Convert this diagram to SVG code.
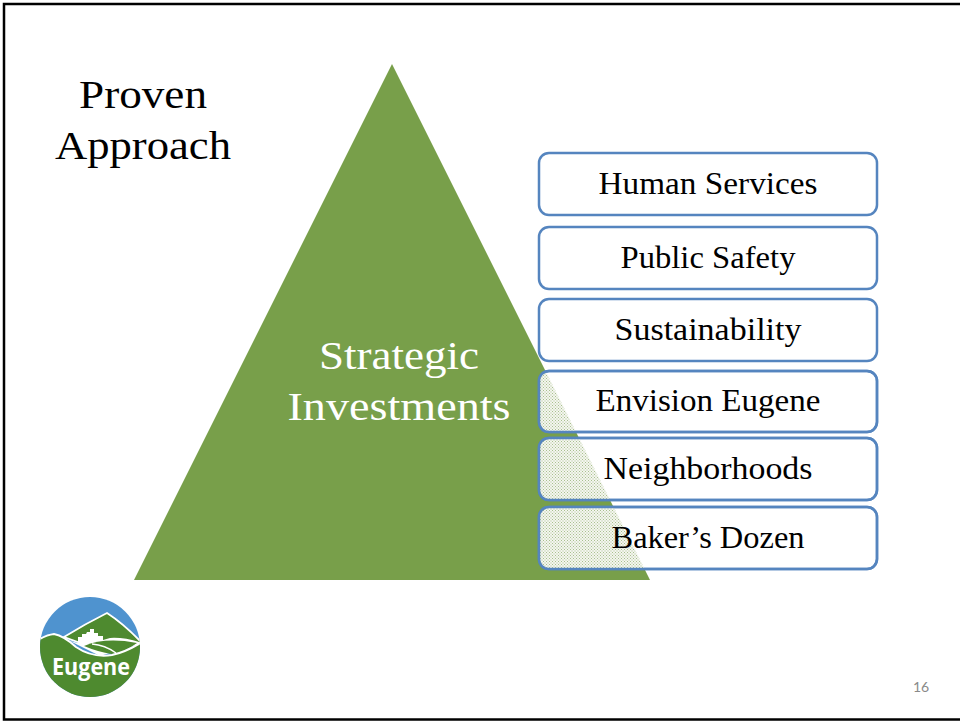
<svg xmlns="http://www.w3.org/2000/svg" width="960" height="721" viewBox="0 0 960 721">
<style>
text{font-family:"Liberation Serif","DejaVu Serif",serif;text-anchor:middle}
.t{font-size:41px;fill:#000}
.w{font-size:41px;fill:#fff}
.b{font-size:31px;fill:#000}
.box{fill:#fff;stroke:#5585bf;stroke-width:2.5}
.edge{fill:none;stroke:#5585bf;stroke-width:2.5}
.ov{fill:url(#dots)}
.ln{fill:none;stroke:#fff}
.gr{fill:#4e8a2f}
</style>
<defs>
<pattern id="dots" width="3" height="3" patternUnits="userSpaceOnUse">
<rect width="3" height="3" fill="#f4f6ef"/>
<rect width="1" height="1" fill="#a9c08f"/>
<rect x="1.500" y="1.500" width="1" height="1" fill="#a9c08f"/>
</pattern>
<clipPath id="tri"><path d="M392 64L650 580H134Z"/></clipPath>
<clipPath id="lg"><circle cx="90" cy="647" r="50"/></clipPath>
</defs>
<rect width="960" height="721" fill="#fff"/>
<path d="M960 4H4V719.500H960" fill="none" stroke="#000" stroke-width="2.500"/>
<g id="title"><text class="t" x="143" y="108" textLength="128" lengthAdjust="spacingAndGlyphs">Proven</text><text class="t" x="143" y="159" textLength="176" lengthAdjust="spacingAndGlyphs">Approach</text></g>
<g id="pyramid"><path d="M392 64L650 580H134Z" fill="#789f4a"/>
<text class="w" x="399" y="369" textLength="160" lengthAdjust="spacingAndGlyphs">Strategic</text><text class="w" x="399" y="420" textLength="223" lengthAdjust="spacingAndGlyphs">Investments</text></g>
<g id="n1"><rect class="box" x="539" y="153" width="338" height="62" rx="10"/><text class="b" x="708" y="194" textLength="219" lengthAdjust="spacingAndGlyphs">Human Services</text></g>
<g id="n2"><rect class="box" x="539" y="227" width="338" height="62" rx="10"/><text class="b" x="708" y="268" textLength="175" lengthAdjust="spacingAndGlyphs">Public Safety</text></g>
<g id="n3"><rect class="box" x="539" y="299" width="338" height="62" rx="10"/><text class="b" x="708" y="340" textLength="187" lengthAdjust="spacingAndGlyphs">Sustainability</text></g>
<g id="n4"><rect class="box" x="539" y="371" width="338" height="61" rx="10"/><rect class="ov" x="539" y="371" width="338" height="61" rx="10" clip-path="url(#tri)"/><rect class="edge" x="539" y="371" width="338" height="61" rx="10"/><text class="b" x="708" y="411" textLength="225" lengthAdjust="spacingAndGlyphs">Envision Eugene</text></g>
<g id="n5"><rect class="box" x="539" y="438" width="338" height="62" rx="10"/><rect class="ov" x="539" y="438" width="338" height="62" rx="10" clip-path="url(#tri)"/><rect class="edge" x="539" y="438" width="338" height="62" rx="10"/><text class="b" x="708" y="479" textLength="209" lengthAdjust="spacingAndGlyphs">Neighborhoods</text></g>
<g id="n6"><rect class="box" x="539" y="507" width="338" height="62" rx="10"/><rect class="ov" x="539" y="507" width="338" height="62" rx="10" clip-path="url(#tri)"/><rect class="edge" x="539" y="507" width="338" height="62" rx="10"/><text class="b" x="708" y="548" textLength="193" lengthAdjust="spacingAndGlyphs">Baker’s Dozen</text></g>
<g id="logo"><circle cx="90" cy="647" r="50" fill="#4f93cf"/>
<g clip-path="url(#lg)">
<path d="M64 637Q85 624 107 613Q124 624 142 643L100 650Z" fill="#4e8a2f" stroke="#fff" stroke-width="1.800"/>
<path d="M62 637Q72 643 82 643H78V637H82V634H86L87 632H90V629H94V633H98V636H103V640L110 638Q124 637 142 643L100 656Z" fill="#fff"/>
<path d="M84 646Q105 637 137 643Q125 652 112 654Q98 652 84 646Z" class="gr"/>
<path class="ln" stroke-width="1.300" d="M92 644Q105 645 116 653"/>
<path d="M36 641Q46 635 54 634Q64 636 76 647Q92 658 112 655Q126 652 142 642V700H36Z" class="gr" stroke="#fff" stroke-width="2"/>
</g>
<text x="91" y="675" style="font-family:'Open Sans',sans-serif;font-weight:700" font-size="24" fill="#fff" textLength="78" lengthAdjust="spacingAndGlyphs">Eugene</text></g>
<text id="page" x="921" y="692" style="font-family:Lato,sans-serif" font-size="14" fill="#8a8a8a">16</text>
</svg>
